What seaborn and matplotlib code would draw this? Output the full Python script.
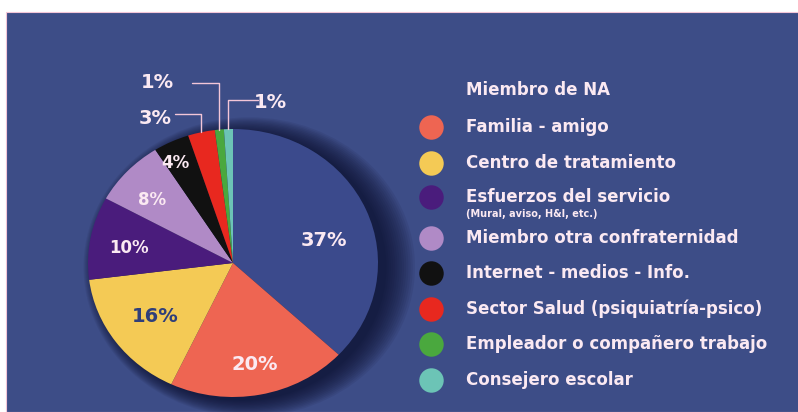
import matplotlib
matplotlib.use("Agg")
import matplotlib.pyplot as plt
import seaborn as sns
import numpy as np

sns.set_theme(style="white")
plt.rcParams['font.family'] = ['DejaVu Sans']

# data
categories = ["Miembro de NA", "Familia - amigo", "Centro de tratamiento",
              "Esfuerzos del servicio", "Miembro otra confraternidad",
              "Internet - medios - Info.", "Sector Salud (psiquiatría-psico)",
              "Empleador o compañero trabajo", "Consejero escolar"]
values = [37, 20, 16, 10, 8, 4, 3, 1, 1]
colors = ["#3b4a8c", "#ee6552", "#f4ca55", "#4a1c7c", "#b08ac6",
          "#111111", "#e8281f", "#4aa83e", "#6cc4b6"]
label_colors = ["#fbe9f2", "#fbe9f2", "#2f3f7a", "#fbe9f2", "#fbe9f2",
                "#fbe9f2", "#fbe9f2", "#fbe9f2", "#fbe9f2"]
subtitle = "(Mural, aviso, H&I, etc.)"

bg = "#3d4d87"
txt = "#fbe9f2"
W, H = 798, 412

fig = plt.figure(figsize=(W / 100, H / 100), dpi=100, facecolor="white")
# navy panel with white margin top/left
fig.patches.append(plt.Rectangle((6 / W, 0), 1, (H - 12) / H, transform=fig.transFigure,
                                 facecolor=bg, edgecolor="#f3c6d8", lw=0.8, zorder=-5))

# pie axes (slightly elliptical like the reference)
cx, cy, rx, ry = 233, 263, 145, 134
ax = fig.add_axes([(cx - rx) / W, (H - cy - ry) / H, 2 * rx / W, 2 * ry / H])
ax.set_facecolor("none")

# soft shadow
for k in range(14):
    e = matplotlib.patches.Ellipse((0.06 + k * 0.004, -0.03), 2.0 + k * 0.022, 2.0 + k * 0.018,
                                   facecolor="#0a0d2a", alpha=0.08, lw=0, zorder=0, clip_on=False)
    ax.add_patch(e)

wedges, _ = ax.pie(values, colors=colors, startangle=90, counterclock=False,
                   radius=1.0, wedgeprops=dict(lw=0))
for w in wedges:
    w.set_zorder(2)
ax.set_aspect("auto")
ax.set_xlim(-1, 1)
ax.set_ylim(-1, 1)
ax.axis("off")

# inside labels (axes units of the unit pie)
inside_xy = [(0.63, 0.17), (0.15, -0.76), (-0.54, -0.40), (-0.72, 0.11), (-0.56, 0.47), (-0.40, 0.75)]
for i, (lx, ly) in enumerate(inside_xy):
    ax.text(lx, ly, f"{values[i]}%", ha="center", va="center",
            fontsize=14 if i < 3 else 12, fontweight="bold", color=label_colors[i], zorder=5)

# outside labels with leader lines
out_pos = {6: (-0.54, 1.08, -0.40, 1.11), 7: (-0.52, 1.35, -0.28, 1.34), 8: (0.26, 1.20, 0.17, 1.22)}
for i, (tx, ty, lx, ly) in out_pos.items():
    w = wedges[i]
    ang = np.deg2rad((w.theta1 + w.theta2) / 2)
    wx, wy = np.cos(ang), np.sin(ang)
    ax.plot([lx, wx, wx], [ly, ly, wy], color="#f3c6d8", lw=1.0, zorder=4, clip_on=False)
    ax.text(tx, ty, f"{values[i]}%", ha="center", va="center", fontsize=14,
            fontweight="bold", color=txt, clip_on=False)

# legend
lg = fig.add_axes([0, 0, 1, 1])
lg.set_xlim(0, W)
lg.set_ylim(H, 0)
lg.axis("off")
lg.set_facecolor("none")
row_y = [90, 127, 163, 197, 238, 273, 309, 344, 380]
for i, name in enumerate(categories):
    if i > 0:
        lg.scatter([431], [row_y[i]], s=310, color=colors[i], lw=0)
    lg.text(466, row_y[i], name, ha="left", va="center", fontsize=12,
            fontweight="bold", color=txt)
lg.text(466, 214, subtitle, ha="left", va="center", fontsize=7,
        fontweight="bold", color=txt)

fig.savefig("out.png", dpi=100, facecolor="white")
